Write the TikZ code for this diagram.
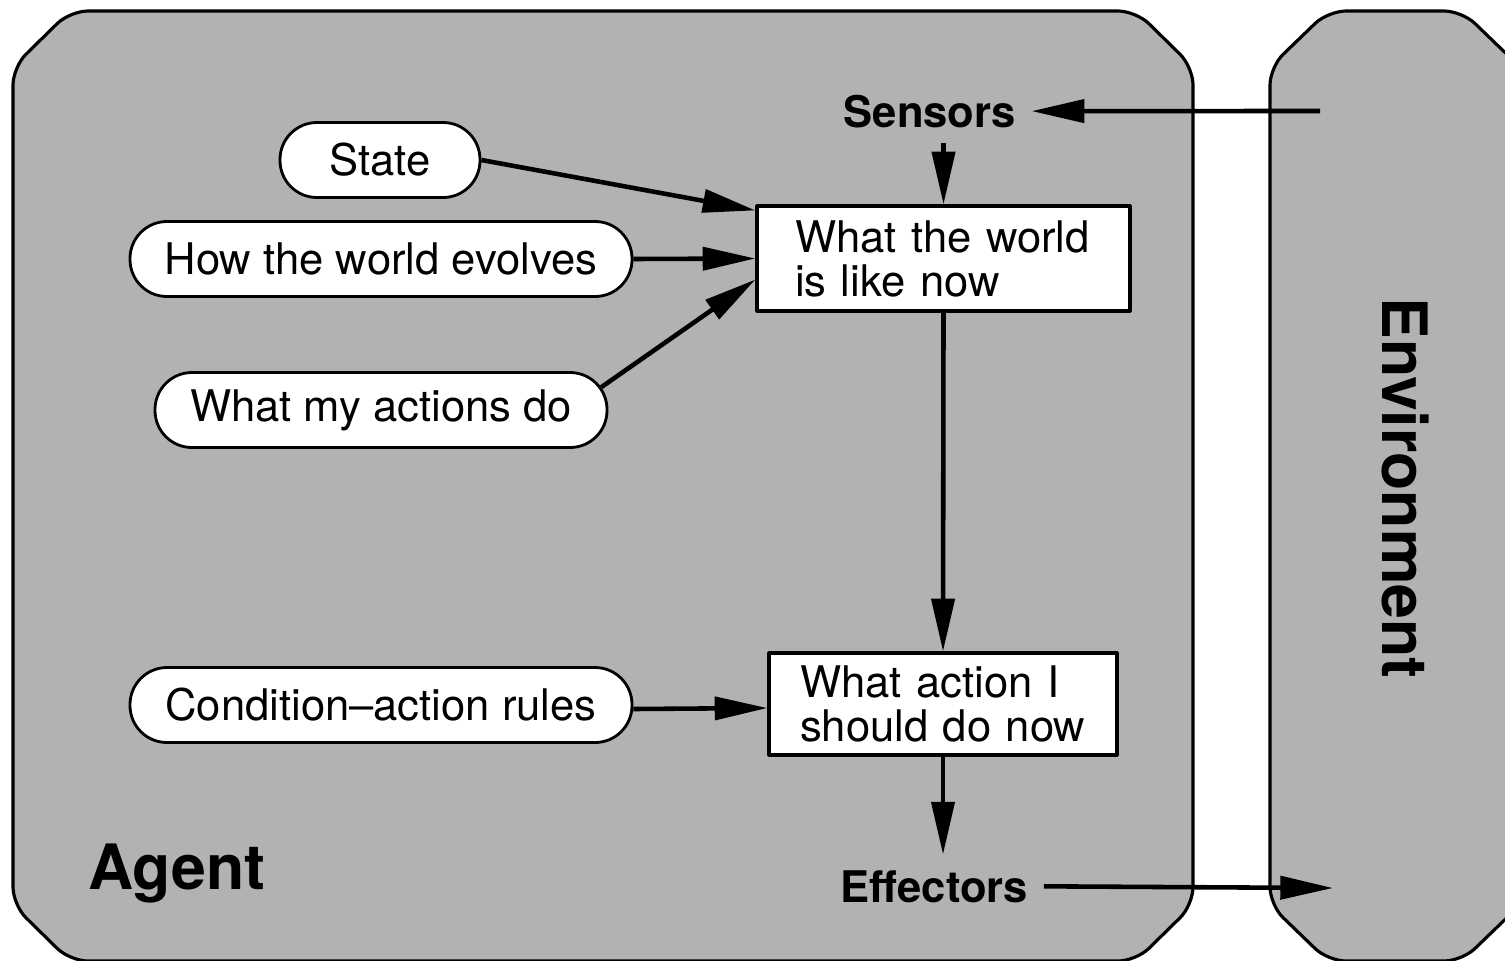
\documentclass[tikz,border=0pt]{standalone}
\usepackage{fontspec}
\setsansfont{TeX Gyre Heros}
\usetikzlibrary{arrows.meta}
\definecolor{agentgray}{RGB}{178,178,178}
\begin{document}
\begin{tikzpicture}[font=\sffamily\fontsize{12.4}{12.5}\selectfont, line join=round, >={Triangle[length=15pt,width=6.5pt]},
    pill/.style={draw, line width=0.8pt, fill=white, rounded corners=0.37cm, minimum height=0.75cm, inner sep=0pt},
    box/.style={draw, line width=0.9pt, fill=white, align=left, inner ysep=0pt},
    lbl/.style={font=\sffamily\bfseries\fontsize{12.4}{12.5}\selectfont, inner sep=0.15cm},
    big/.style={font=\sffamily\bfseries\fontsize{17.8}{18}\selectfont, inner sep=0pt},
    flow/.style={->, line width=1.3pt}]
    \useasboundingbox (0,0) rectangle (15.05,9.6);
    \clip (0,0) rectangle (15.05,9.6);
    \draw[fill=agentgray, line width=0.9pt, rounded corners=0.18cm] (0.13,0.55)--(0.13,8.93)--(0.70,9.49)--(11.36,9.49)--(11.93,8.93)--(11.93,0.55)--(11.36,-0.01)--(0.70,-0.01)--cycle;
    \draw[fill=agentgray, line width=0.9pt, rounded corners=0.18cm] (12.70,0.55)--(12.70,8.93)--(13.28,9.49)--(14.62,9.49)--(15.20,8.93)--(15.20,0.55)--(14.62,-0.01)--(13.28,-0.01)--cycle;
    \node[big, anchor=base west] (agent) at (0.88,0.71) {Agent};
    \node[big, rotate=-90] (env) at (14.05,4.72) {Environment};
    \node[lbl, anchor=base west] (sensors) at (8.28,8.33) {Sensors};
    \node[lbl, anchor=base west] (effectors) at (8.25,0.58) {Effectors};
    \node[pill, minimum width=2.0cm] (state) at (3.80,8.00) {State};
    \node[pill, minimum width=5.02cm] (evolves) at (3.81,7.01) {How the world evolves};
    \node[pill, minimum width=4.52cm] (actions) at (3.81,5.50) {What my actions do};
    \node[pill, minimum width=5.02cm] (rules) at (3.81,2.55) {Condition--action rules};
    \node[box, text width=2.97cm, inner xsep=0.38cm, minimum height=1.05cm] (world) at (9.435,7.015) {What the world\\is like now};
    \node[box, text width=2.86cm, inner xsep=0.31cm, minimum height=1.02cm] (action) at (9.43,2.56) {What action I\\should do now};
    \coordinate (envin) at (13.20,8.49);
    \coordinate (envout) at (13.33,0.72);
    \draw[flow] (envin) -- (sensors.east);
    \draw[flow] (sensors.south -| world.north) -- (world.north);
    \draw[flow] (state.east) -- ([yshift=-0.06cm]world.north west);
    \draw[flow] (evolves.east) -- (world.west);
    \draw[flow] ([xshift=-0.07cm,yshift=-0.16cm]actions.north east) -- ([yshift=-0.21cm]world.west);
    \draw[flow] (world.south) -- (action.north);
    \draw[flow] ([yshift=-0.04cm]rules.east) -- ([yshift=-0.04cm]action.west);
    \draw[flow] (action.south) -- (effectors.north -| action.south);
    \draw[flow] (effectors.east) -- (envout);
\end{tikzpicture}
\end{document}
